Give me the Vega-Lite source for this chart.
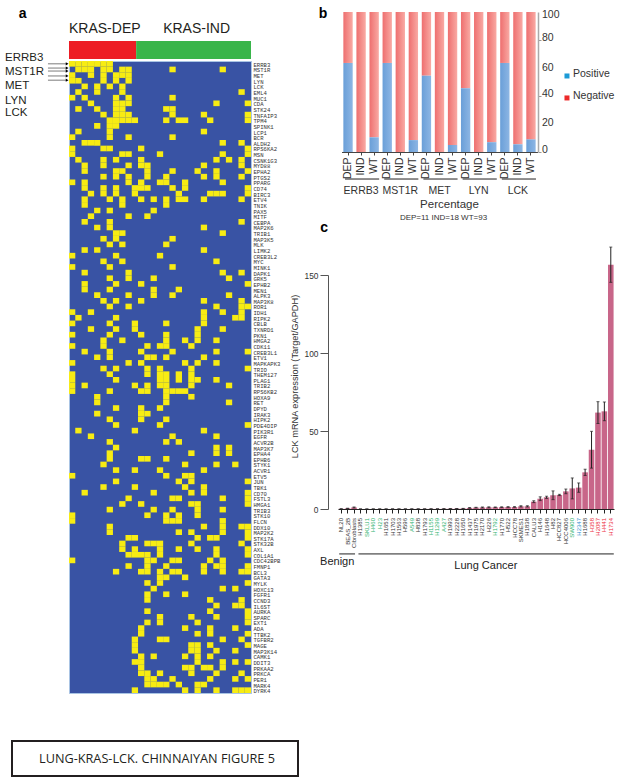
{"$schema":"https://vega.github.io/schema/vega-lite/v6.json","background":"white","padding":{"left":4,"top":7,"right":0,"bottom":0},"spacing":-9,"config":{"view":{"stroke":null},"text":{"font":"Liberation Sans"},"axis":{"labelFont":"Liberation Sans","titleFont":"Liberation Sans","grid":false},"legend":{"labelFont":"Liberation Sans"}},"hconcat":[{"spacing":45,"vconcat":[{"spacing":-8,"vconcat":[{"width":182,"height":47,"data":{"values":[{"group":"KRAS-DEP","start":0.5,"end":11.2,"low":0,"high":18},{"group":"KRAS-IND","start":11.2,"end":29.5,"low":0,"high":18}]},"layer":[{"mark":{"type":"rect"},"encoding":{"x":{"field":"start","type":"quantitative","scale":{"domain":[0.5,29.5],"nice":false,"zero":false},"axis":null},"x2":{"field":"end"},"y":{"field":"low","type":"quantitative","scale":{"domain":[0,47],"nice":false},"axis":null},"y2":{"field":"high"},"color":{"field":"group","type":"nominal","scale":{"domain":["KRAS-DEP","KRAS-IND"],"range":["#ed1c24","#39b54a"]},"legend":null}}},{"transform":[{"filter":"datum.group=='KRAS-DEP'"}],"mark":{"type":"text","align":"left","fontSize":14,"color":"#231f20","dy":-6.5},"encoding":{"x":{"field":"start","type":"quantitative"},"text":{"field":"group"}}},{"transform":[{"filter":"datum.group=='KRAS-IND'"}],"mark":{"type":"text","align":"left","fontSize":14,"color":"#231f20","dy":-6.5,"dx":27},"encoding":{"x":{"field":"start","type":"quantitative"},"text":{"field":"group"}}},{"data":{"values":[{"letter":"a"}]},"mark":{"type":"text","align":"left","fontSize":14,"fontWeight":"bold","color":"#000","dy":-21.5},"encoding":{"x":{"datum":-7.5,"type":"quantitative"},"text":{"field":"letter"}}}]},{"width":182,"height":632,"view":{"fill":"#3953a4","stroke":"#a9c4e4"},"layer":[{"data":{"values":[{"g":"ERRB3","c":1},{"g":"ERRB3","c":2},{"g":"ERRB3","c":3},{"g":"ERRB3","c":4},{"g":"ERRB3","c":5},{"g":"ERRB3","c":6},{"g":"ERRB3","c":7},{"g":"MST1R","c":2},{"g":"MST1R","c":3},{"g":"MST1R","c":4},{"g":"MST1R","c":6},{"g":"MST1R","c":7},{"g":"MST1R","c":9},{"g":"MST1R","c":10},{"g":"MST1R","c":17},{"g":"MST1R","c":25},{"g":"MET","c":1},{"g":"MET","c":4},{"g":"MET","c":6},{"g":"MET","c":8},{"g":"MET","c":9},{"g":"MET","c":10},{"g":"LYN","c":1},{"g":"LYN","c":2},{"g":"LYN","c":6},{"g":"LYN","c":8},{"g":"LYN","c":10},{"g":"LCK","c":3},{"g":"LCK","c":5},{"g":"LCK","c":7},{"g":"LCK","c":9},{"g":"EML4","c":2},{"g":"EML4","c":5},{"g":"EML4","c":9},{"g":"EML4","c":28},{"g":"MUC1","c":1},{"g":"MUC1","c":3},{"g":"MUC1","c":8},{"g":"MUC1","c":10},{"g":"MUC1","c":17},{"g":"CDA","c":4},{"g":"CDA","c":8},{"g":"CDA","c":9},{"g":"CDA","c":10},{"g":"CDA","c":24},{"g":"CDA","c":29},{"g":"STK24","c":2},{"g":"STK24","c":5},{"g":"STK24","c":8},{"g":"STK24","c":9},{"g":"STK24","c":16},{"g":"STK24","c":17},{"g":"TNFAIP3","c":6},{"g":"TNFAIP3","c":8},{"g":"TNFAIP3","c":9},{"g":"TNFAIP3","c":10},{"g":"TNFAIP3","c":17},{"g":"TNFAIP3","c":22},{"g":"TNFAIP3","c":29},{"g":"TPM4","c":7},{"g":"TPM4","c":8},{"g":"TPM4","c":9},{"g":"TPM4","c":10},{"g":"TPM4","c":11},{"g":"TPM4","c":16},{"g":"TPM4","c":18},{"g":"TPM4","c":19},{"g":"TPM4","c":23},{"g":"TPM4","c":29},{"g":"SPINK1","c":5},{"g":"SPINK1","c":7},{"g":"SPINK1","c":8},{"g":"LCP1","c":2},{"g":"LCP1","c":7},{"g":"LCP1","c":22},{"g":"BCR","c":1},{"g":"BCR","c":7},{"g":"BCR","c":10},{"g":"BCR","c":17},{"g":"ALDH2","c":3},{"g":"ALDH2","c":4},{"g":"ALDH2","c":5},{"g":"ALDH2","c":25},{"g":"ALDH2","c":28},{"g":"RPS6KA2","c":1},{"g":"RPS6KA2","c":6},{"g":"RPS6KA2","c":7},{"g":"RPS6KA2","c":12},{"g":"RPS6KA2","c":29},{"g":"MSN","c":1},{"g":"MSN","c":9},{"g":"MSN","c":10},{"g":"MSN","c":15},{"g":"MSN","c":25},{"g":"MSN","c":29},{"g":"CSNK1G3","c":2},{"g":"CSNK1G3","c":6},{"g":"CSNK1G3","c":8},{"g":"CSNK1G3","c":12},{"g":"CSNK1G3","c":24},{"g":"CSNK1G3","c":26},{"g":"CSNK1G3","c":28},{"g":"MYD88","c":3},{"g":"MYD88","c":6},{"g":"MYD88","c":10},{"g":"MYD88","c":12},{"g":"MYD88","c":13},{"g":"MYD88","c":22},{"g":"MYD88","c":28},{"g":"EPHA2","c":3},{"g":"EPHA2","c":8},{"g":"EPHA2","c":9},{"g":"EPHA2","c":13},{"g":"EPHA2","c":17},{"g":"EPHA2","c":21},{"g":"EPHA2","c":24},{"g":"EPHA2","c":29},{"g":"PTGS2","c":6},{"g":"PTGS2","c":8},{"g":"PTGS2","c":10},{"g":"PTGS2","c":13},{"g":"PTGS2","c":16},{"g":"PTGS2","c":22},{"g":"PTGS2","c":24},{"g":"PTGS2","c":28},{"g":"PPARG","c":1},{"g":"PPARG","c":3},{"g":"PPARG","c":10},{"g":"PPARG","c":12},{"g":"PPARG","c":15},{"g":"PPARG","c":16},{"g":"PPARG","c":19},{"g":"PPARG","c":25},{"g":"CD74","c":3},{"g":"CD74","c":6},{"g":"CD74","c":8},{"g":"CD74","c":11},{"g":"CD74","c":12},{"g":"CD74","c":13},{"g":"CD74","c":17},{"g":"CD74","c":19},{"g":"CD74","c":29},{"g":"BIRC3","c":4},{"g":"BIRC3","c":6},{"g":"BIRC3","c":8},{"g":"BIRC3","c":11},{"g":"BIRC3","c":18},{"g":"BIRC3","c":23},{"g":"BIRC3","c":24},{"g":"BIRC3","c":25},{"g":"BIRC3","c":29},{"g":"ETV4","c":3},{"g":"ETV4","c":7},{"g":"ETV4","c":9},{"g":"ETV4","c":12},{"g":"ETV4","c":14},{"g":"ETV4","c":16},{"g":"ETV4","c":18},{"g":"ETV4","c":19},{"g":"ETV4","c":22},{"g":"ETV4","c":28},{"g":"TNIK","c":3},{"g":"TNIK","c":9},{"g":"TNIK","c":16},{"g":"PAX5","c":5},{"g":"PAX5","c":7},{"g":"PAX5","c":14},{"g":"MITF","c":4},{"g":"MITF","c":10},{"g":"MITF","c":13},{"g":"CEBPA","c":3},{"g":"CEBPA","c":7},{"g":"CEBPA","c":28},{"g":"MAP2K6","c":5},{"g":"MAP2K6","c":7},{"g":"MAP2K6","c":22},{"g":"TRIB1","c":8},{"g":"TRIB1","c":9},{"g":"TRIB1","c":25},{"g":"MAP3K5","c":6},{"g":"MAP3K5","c":8},{"g":"MAP3K5","c":17},{"g":"MLK","c":7},{"g":"MLK","c":9},{"g":"MLK","c":16},{"g":"LIMK2","c":3},{"g":"LIMK2","c":5},{"g":"LIMK2","c":22},{"g":"CREB3L2","c":1},{"g":"CREB3L2","c":8},{"g":"CREB3L2","c":15},{"g":"MYC","c":6},{"g":"MYC","c":9},{"g":"MYC","c":24},{"g":"MINK1","c":1},{"g":"MINK1","c":7},{"g":"MINK1","c":17},{"g":"DAPK1","c":3},{"g":"DAPK1","c":10},{"g":"DAPK1","c":25},{"g":"DAPK1","c":28},{"g":"GRK5","c":7},{"g":"GRK5","c":10},{"g":"GRK5","c":14},{"g":"GRK5","c":26},{"g":"EPHB2","c":3},{"g":"EPHB2","c":8},{"g":"EPHB2","c":12},{"g":"EPHB2","c":29},{"g":"MEN1","c":3},{"g":"MEN1","c":7},{"g":"MEN1","c":14},{"g":"MEN1","c":18},{"g":"ALPK3","c":5},{"g":"ALPK3","c":10},{"g":"ALPK3","c":14},{"g":"ALPK3","c":17},{"g":"ALPK3","c":26},{"g":"MAP3K8","c":6},{"g":"MAP3K8","c":8},{"g":"MAP3K8","c":12},{"g":"MAP3K8","c":22},{"g":"MAP3K8","c":28},{"g":"ROR1","c":7},{"g":"ROR1","c":10},{"g":"ROR1","c":24},{"g":"ROR1","c":28},{"g":"ROR1","c":29},{"g":"IDH1","c":1},{"g":"IDH1","c":4},{"g":"IDH1","c":22},{"g":"IDH1","c":25},{"g":"IDH1","c":28},{"g":"RIPK2","c":2},{"g":"RIPK2","c":8},{"g":"RIPK2","c":22},{"g":"RIPK2","c":27},{"g":"RIPK2","c":28},{"g":"CBLB","c":1},{"g":"CBLB","c":7},{"g":"CBLB","c":11},{"g":"CBLB","c":16},{"g":"CBLB","c":22},{"g":"TXNRD1","c":4},{"g":"TXNRD1","c":8},{"g":"TXNRD1","c":11},{"g":"TXNRD1","c":21},{"g":"TXNRD1","c":25},{"g":"PKN1","c":1},{"g":"PKN1","c":7},{"g":"PKN1","c":12},{"g":"PKN1","c":16},{"g":"PKN1","c":21},{"g":"HMGA2","c":6},{"g":"HMGA2","c":9},{"g":"HMGA2","c":16},{"g":"HMGA2","c":19},{"g":"HMGA2","c":21},{"g":"HMGA2","c":24},{"g":"CDK11","c":1},{"g":"CDK11","c":6},{"g":"CDK11","c":13},{"g":"CDK11","c":15},{"g":"CDK11","c":16},{"g":"CDK11","c":20},{"g":"CREB3L1","c":3},{"g":"CREB3L1","c":7},{"g":"CREB3L1","c":12},{"g":"CREB3L1","c":17},{"g":"CREB3L1","c":24},{"g":"CREB3L1","c":29},{"g":"ETV1","c":5},{"g":"ETV1","c":7},{"g":"ETV1","c":13},{"g":"ETV1","c":14},{"g":"ETV1","c":16},{"g":"ETV1","c":22},{"g":"MAPKAPK3","c":1},{"g":"MAPKAPK3","c":10},{"g":"MAPKAPK3","c":12},{"g":"MAPKAPK3","c":19},{"g":"MAPKAPK3","c":21},{"g":"MAPKAPK3","c":24},{"g":"TRIO","c":6},{"g":"TRIO","c":8},{"g":"TRIO","c":13},{"g":"TRIO","c":15},{"g":"TRIO","c":20},{"g":"TRIO","c":29},{"g":"THEM127","c":1},{"g":"THEM127","c":7},{"g":"THEM127","c":13},{"g":"THEM127","c":15},{"g":"THEM127","c":16},{"g":"THEM127","c":18},{"g":"THEM127","c":20},{"g":"PLAG1","c":1},{"g":"PLAG1","c":8},{"g":"PLAG1","c":15},{"g":"PLAG1","c":16},{"g":"PLAG1","c":18},{"g":"PLAG1","c":20},{"g":"PLAG1","c":21},{"g":"PLAG1","c":24},{"g":"TRIB2","c":1},{"g":"TRIB2","c":3},{"g":"TRIB2","c":11},{"g":"TRIB2","c":13},{"g":"TRIB2","c":15},{"g":"TRIB2","c":16},{"g":"TRIB2","c":20},{"g":"TRIB2","c":26},{"g":"RPS6KB2","c":1},{"g":"RPS6KB2","c":7},{"g":"RPS6KB2","c":12},{"g":"RPS6KB2","c":13},{"g":"RPS6KB2","c":16},{"g":"RPS6KB2","c":17},{"g":"RPS6KB2","c":18},{"g":"RPS6KB2","c":19},{"g":"HOXA9","c":5},{"g":"HOXA9","c":16},{"g":"HOXA9","c":20},{"g":"RET","c":5},{"g":"RET","c":16},{"g":"RET","c":26},{"g":"DPYD","c":8},{"g":"DPYD","c":12},{"g":"DPYD","c":15},{"g":"IRAK3","c":5},{"g":"IRAK3","c":12},{"g":"IRAK3","c":13},{"g":"HIPK2","c":7},{"g":"HIPK2","c":12},{"g":"HIPK2","c":16},{"g":"PDE4DIP","c":8},{"g":"PDE4DIP","c":15},{"g":"PDE4DIP","c":29},{"g":"PIK3R1","c":2},{"g":"PIK3R1","c":11},{"g":"PIK3R1","c":22},{"g":"EGFR","c":4},{"g":"EGFR","c":17},{"g":"EGFR","c":24},{"g":"ACVR2B","c":7},{"g":"ACVR2B","c":16},{"g":"ACVR2B","c":18},{"g":"MAP3K7","c":8},{"g":"MAP3K7","c":24},{"g":"MAP3K7","c":26},{"g":"EPHA4","c":7},{"g":"EPHA4","c":20},{"g":"EPHA4","c":24},{"g":"EPHA4","c":26},{"g":"EPHB6","c":7},{"g":"EPHB6","c":12},{"g":"EPHB6","c":13},{"g":"EPHB6","c":16},{"g":"STYK1","c":6},{"g":"STYK1","c":19},{"g":"STYK1","c":24},{"g":"STYK1","c":27},{"g":"ACVR1","c":8},{"g":"ACVR1","c":11},{"g":"ACVR1","c":15},{"g":"ACVR1","c":22},{"g":"ETV5","c":1},{"g":"ETV5","c":16},{"g":"ETV5","c":19},{"g":"ETV5","c":20},{"g":"JUN","c":8},{"g":"JUN","c":18},{"g":"JUN","c":20},{"g":"JUN","c":29},{"g":"TBK1","c":6},{"g":"TBK1","c":11},{"g":"TBK1","c":19},{"g":"TBK1","c":22},{"g":"CD70","c":3},{"g":"CD70","c":14},{"g":"CD70","c":20},{"g":"CD70","c":22},{"g":"CD70","c":29},{"g":"FSTL3","c":10},{"g":"FSTL3","c":17},{"g":"FSTL3","c":18},{"g":"FSTL3","c":25},{"g":"FSTL3","c":29},{"g":"HMGA1","c":9},{"g":"HMGA1","c":12},{"g":"HMGA1","c":20},{"g":"HMGA1","c":21},{"g":"HMGA1","c":29},{"g":"TRIB3","c":7},{"g":"TRIB3","c":14},{"g":"TRIB3","c":17},{"g":"TRIB3","c":21},{"g":"TRIB3","c":25},{"g":"STK10","c":1},{"g":"STK10","c":13},{"g":"STK10","c":16},{"g":"STK10","c":18},{"g":"STK10","c":21},{"g":"FLCN","c":1},{"g":"FLCN","c":16},{"g":"FLCN","c":17},{"g":"FLCN","c":18},{"g":"FLCN","c":25},{"g":"DDX10","c":7},{"g":"DDX10","c":22},{"g":"DDX10","c":25},{"g":"DDX10","c":28},{"g":"DDX10","c":29},{"g":"MAP2K2","c":7},{"g":"MAP2K2","c":18},{"g":"MAP2K2","c":20},{"g":"MAP2K2","c":25},{"g":"MAP2K2","c":29},{"g":"STK17A","c":10},{"g":"STK17A","c":11},{"g":"STK17A","c":21},{"g":"STK17A","c":23},{"g":"STK17A","c":24},{"g":"STK17A","c":29},{"g":"STK32B","c":9},{"g":"STK32B","c":13},{"g":"STK32B","c":14},{"g":"STK32B","c":15},{"g":"STK32B","c":20},{"g":"STK32B","c":28},{"g":"AXL","c":9},{"g":"AXL","c":11},{"g":"AXL","c":15},{"g":"AXL","c":18},{"g":"AXL","c":21},{"g":"AXL","c":24},{"g":"AXL","c":29},{"g":"COL1A1","c":10},{"g":"COL1A1","c":11},{"g":"COL1A1","c":12},{"g":"COL1A1","c":13},{"g":"COL1A1","c":15},{"g":"COL1A1","c":24},{"g":"COL1A1","c":29},{"g":"CDC42BPB","c":1},{"g":"CDC42BPB","c":13},{"g":"CDC42BPB","c":14},{"g":"CDC42BPB","c":17},{"g":"CDC42BPB","c":18},{"g":"CDC42BPB","c":23},{"g":"CDC42BPB","c":25},{"g":"FMNP1","c":10},{"g":"FMNP1","c":13},{"g":"FMNP1","c":16},{"g":"FMNP1","c":22},{"g":"FMNP1","c":24},{"g":"FMNP1","c":25},{"g":"FMNP1","c":29},{"g":"BCL3","c":8},{"g":"BCL3","c":12},{"g":"BCL3","c":13},{"g":"BCL3","c":15},{"g":"BCL3","c":17},{"g":"BCL3","c":18},{"g":"BCL3","c":22},{"g":"BCL3","c":25},{"g":"BCL3","c":28},{"g":"BCL3","c":29},{"g":"GATA3","c":15},{"g":"GATA3","c":16},{"g":"GATA3","c":19},{"g":"MYLK","c":13},{"g":"MYLK","c":15},{"g":"MYLK","c":29},{"g":"HOXC13","c":14},{"g":"HOXC13","c":25},{"g":"HOXC13","c":27},{"g":"FGFR1","c":13},{"g":"FGFR1","c":16},{"g":"FGFR1","c":19},{"g":"CCND3","c":13},{"g":"CCND3","c":23},{"g":"CCND3","c":28},{"g":"IL6ST","c":24},{"g":"IL6ST","c":27},{"g":"IL6ST","c":28},{"g":"AURKA","c":13},{"g":"AURKA","c":23},{"g":"AURKA","c":29},{"g":"SPARC","c":15},{"g":"SPARC","c":20},{"g":"SPARC","c":24},{"g":"SPARC","c":29},{"g":"EXT1","c":13},{"g":"EXT1","c":15},{"g":"EXT1","c":21},{"g":"EXT1","c":29},{"g":"ADA","c":12},{"g":"ADA","c":19},{"g":"ADA","c":23},{"g":"ADA","c":27},{"g":"TTBK2","c":12},{"g":"TTBK2","c":21},{"g":"TTBK2","c":23},{"g":"TTBK2","c":29},{"g":"TGFBR2","c":11},{"g":"TGFBR2","c":15},{"g":"TGFBR2","c":16},{"g":"TGFBR2","c":25},{"g":"TGFBR2","c":28},{"g":"MAGE","c":11},{"g":"MAGE","c":20},{"g":"MAGE","c":21},{"g":"MAGE","c":23},{"g":"MAGE","c":29},{"g":"MAP3K14","c":11},{"g":"MAP3K14","c":20},{"g":"MAP3K14","c":21},{"g":"MAP3K14","c":24},{"g":"MAP3K14","c":27},{"g":"CAMK1","c":12},{"g":"CAMK1","c":14},{"g":"CAMK1","c":19},{"g":"CAMK1","c":21},{"g":"CAMK1","c":23},{"g":"DDIT3","c":11},{"g":"DDIT3","c":12},{"g":"DDIT3","c":21},{"g":"DDIT3","c":25},{"g":"DDIT3","c":27},{"g":"DDIT3","c":29},{"g":"PRKAA2","c":12},{"g":"PRKAA2","c":19},{"g":"PRKAA2","c":20},{"g":"PRKAA2","c":22},{"g":"PRKAA2","c":23},{"g":"PRKAA2","c":25},{"g":"PRKCA","c":12},{"g":"PRKCA","c":13},{"g":"PRKCA","c":15},{"g":"PRKCA","c":20},{"g":"PRKCA","c":24},{"g":"PRKCA","c":28},{"g":"PER1","c":13},{"g":"PER1","c":14},{"g":"PER1","c":17},{"g":"PER1","c":23},{"g":"PER1","c":27},{"g":"PER1","c":29},{"g":"MARK4","c":13},{"g":"MARK4","c":14},{"g":"MARK4","c":15},{"g":"MARK4","c":16},{"g":"MARK4","c":18},{"g":"MARK4","c":21},{"g":"MARK4","c":22},{"g":"DYRK4","c":11},{"g":"DYRK4","c":19},{"g":"DYRK4","c":21},{"g":"DYRK4","c":24},{"g":"DYRK4","c":27},{"g":"DYRK4","c":28},{"g":"DYRK4","c":29}]},"mark":{"type":"rect","color":"#f7ec13","width":6.3},"encoding":{"x":{"field":"c","type":"quantitative","scale":{"domain":[0.5,29.5],"nice":false,"zero":false},"axis":null},"y":{"field":"g","type":"nominal","sort":null,"scale":{"domain":["ERRB3","MST1R","MET","LYN","LCK","EML4","MUC1","CDA","STK24","TNFAIP3","TPM4","SPINK1","LCP1","BCR","ALDH2","RPS6KA2","MSN","CSNK1G3","MYD88","EPHA2","PTGS2","PPARG","CD74","BIRC3","ETV4","TNIK","PAX5","MITF","CEBPA","MAP2K6","TRIB1","MAP3K5","MLK","LIMK2","CREB3L2","MYC","MINK1","DAPK1","GRK5","EPHB2","MEN1","ALPK3","MAP3K8","ROR1","IDH1","RIPK2","CBLB","TXNRD1","PKN1","HMGA2","CDK11","CREB3L1","ETV1","MAPKAPK3","TRIO","THEM127","PLAG1","TRIB2","RPS6KB2","HOXA9","RET","DPYD","IRAK3","HIPK2","PDE4DIP","PIK3R1","EGFR","ACVR2B","MAP3K7","EPHA4","EPHB6","STYK1","ACVR1","ETV5","JUN","TBK1","CD70","FSTL3","HMGA1","TRIB3","STK10","FLCN","DDX10","MAP2K2","STK17A","STK32B","AXL","COL1A1","CDC42BPB","FMNP1","BCL3","GATA3","MYLK","HOXC13","FGFR1","CCND3","IL6ST","AURKA","SPARC","EXT1","ADA","TTBK2","TGFBR2","MAGE","MAP3K14","CAMK1","DDIT3","PRKAA2","PRKCA","PER1","MARK4","DYRK4"],"paddingInner":0,"paddingOuter":0},"axis":{"orient":"right","title":null,"ticks":false,"domain":false,"labelFont":"Liberation Mono","labelFontSize":5.6,"labelPadding":2,"labelOffset":1,"labelOverlap":false,"labelColor":"#333333"}}}},{"data":{"values":[{"label":"ERRB3"}]},"mark":{"type":"text","align":"left","fontSize":11.5,"color":"#231f20","dy":-6},"encoding":{"x":{"datum":-9.7,"type":"quantitative"},"y":{"field":"label","type":"nominal","sort":null},"text":{"field":"label"}}},{"data":{"values":[{"label":"MST1R"}]},"mark":{"type":"text","align":"left","fontSize":11.5,"color":"#231f20","dy":2.5},"encoding":{"x":{"datum":-9.7,"type":"quantitative"},"y":{"field":"label","type":"nominal","sort":null},"text":{"field":"label"}}},{"data":{"values":[{"label":"MET"}]},"mark":{"type":"text","align":"left","fontSize":11.5,"color":"#231f20","dy":11},"encoding":{"x":{"datum":-9.7,"type":"quantitative"},"y":{"field":"label","type":"nominal","sort":null},"text":{"field":"label"}}},{"data":{"values":[{"label":"LYN"}]},"mark":{"type":"text","align":"left","fontSize":11.5,"color":"#231f20","dy":20},"encoding":{"x":{"datum":-9.7,"type":"quantitative"},"y":{"field":"label","type":"nominal","sort":null},"text":{"field":"label"}}},{"data":{"values":[{"label":"LCK"}]},"mark":{"type":"text","align":"left","fontSize":11.5,"color":"#231f20","dy":26.5},"encoding":{"x":{"datum":-9.7,"type":"quantitative"},"y":{"field":"label","type":"nominal","sort":null},"text":{"field":"label"}}},{"data":{"values":[{"a":"ERRB3","s":-2.85,"e":0.2}]},"layer":[{"mark":{"type":"rule","color":"#444444","strokeWidth":0.7},"encoding":{"x":{"field":"s","type":"quantitative"},"x2":{"field":"e"},"y":{"field":"a","type":"nominal","sort":null,"bandPosition":0.5}}},{"mark":{"type":"point","shape":"triangle-right","filled":true,"size":10,"color":"#000000","opacity":1},"encoding":{"x":{"field":"e","type":"quantitative"},"y":{"field":"a","type":"nominal","sort":null,"bandPosition":0.5}}}]},{"data":{"values":[{"a":"MST1R","s":-2.85,"e":0.2}]},"layer":[{"mark":{"type":"rule","color":"#444444","strokeWidth":0.7},"encoding":{"x":{"field":"s","type":"quantitative"},"x2":{"field":"e"},"y":{"field":"a","type":"nominal","sort":null,"bandPosition":0.25}}},{"mark":{"type":"point","shape":"triangle-right","filled":true,"size":10,"color":"#000000","opacity":1},"encoding":{"x":{"field":"e","type":"quantitative"},"y":{"field":"a","type":"nominal","sort":null,"bandPosition":0.25}}}]},{"data":{"values":[{"a":"MST1R","s":-2.85,"e":0.2}]},"layer":[{"mark":{"type":"rule","color":"#444444","strokeWidth":0.7},"encoding":{"x":{"field":"s","type":"quantitative"},"x2":{"field":"e"},"y":{"field":"a","type":"nominal","sort":null,"bandPosition":0.78}}},{"mark":{"type":"point","shape":"triangle-right","filled":true,"size":10,"color":"#000000","opacity":1},"encoding":{"x":{"field":"e","type":"quantitative"},"y":{"field":"a","type":"nominal","sort":null,"bandPosition":0.78}}}]},{"data":{"values":[{"a":"MET","s":-2.85,"e":0.2}]},"layer":[{"mark":{"type":"rule","color":"#444444","strokeWidth":0.7},"encoding":{"x":{"field":"s","type":"quantitative"},"x2":{"field":"e"},"y":{"field":"a","type":"nominal","sort":null,"bandPosition":0.65}}},{"mark":{"type":"point","shape":"triangle-right","filled":true,"size":10,"color":"#000000","opacity":1},"encoding":{"x":{"field":"e","type":"quantitative"},"y":{"field":"a","type":"nominal","sort":null,"bandPosition":0.65}}}]},{"data":{"values":[{"a":"LYN","s":-2.85,"e":0.2}]},"layer":[{"mark":{"type":"rule","color":"#444444","strokeWidth":0.7},"encoding":{"x":{"field":"s","type":"quantitative"},"x2":{"field":"e"},"y":{"field":"a","type":"nominal","sort":null,"bandPosition":0.4}}},{"mark":{"type":"point","shape":"triangle-right","filled":true,"size":10,"color":"#000000","opacity":1},"encoding":{"x":{"field":"e","type":"quantitative"},"y":{"field":"a","type":"nominal","sort":null,"bandPosition":0.4}}}]}]}]},{"width":229,"height":36,"data":{"values":[{"t":"LUNG-KRAS-LCK. CHINNAIYAN FIGURE 5","x0":-57,"x1":229,"y0":0,"y1":35,"xm":88,"ym":17.5}]},"layer":[{"mark":{"type":"rect","fillOpacity":0,"stroke":"#231f20","strokeWidth":2},"encoding":{"x":{"field":"x0","type":"quantitative","scale":{"domain":[0,229],"nice":false,"zero":false},"axis":null},"x2":{"field":"x1"},"y":{"field":"y0","type":"quantitative","scale":{"domain":[0,36],"nice":false},"axis":null},"y2":{"field":"y1"}}},{"mark":{"type":"text","font":"Open Sans","fontSize":12.7,"color":"#231f20"},"encoding":{"x":{"field":"xm","type":"quantitative"},"y":{"field":"ym","type":"quantitative"},"text":{"field":"t"}}}]}]},{"spacing":-1,"vconcat":[{"width":200,"height":140,"data":{"values":[{"k":"ERRB3 DEP","status":"Positive","pct":63.6},{"k":"ERRB3 DEP","status":"Negative","pct":36.4},{"k":"ERRB3 IND","status":"Positive","pct":0},{"k":"ERRB3 IND","status":"Negative","pct":100},{"k":"ERRB3 WT","status":"Positive","pct":10.5},{"k":"ERRB3 WT","status":"Negative","pct":89.5},{"k":"MST1R DEP","status":"Positive","pct":63.6},{"k":"MST1R DEP","status":"Negative","pct":36.4},{"k":"MST1R IND","status":"Positive","pct":0},{"k":"MST1R IND","status":"Negative","pct":100},{"k":"MST1R WT","status":"Positive","pct":8.5},{"k":"MST1R WT","status":"Negative","pct":91.5},{"k":"MET DEP","status":"Positive","pct":54.5},{"k":"MET DEP","status":"Negative","pct":45.5},{"k":"MET IND","status":"Positive","pct":0},{"k":"MET IND","status":"Negative","pct":100},{"k":"MET WT","status":"Positive","pct":5},{"k":"MET WT","status":"Negative","pct":95},{"k":"LYN DEP","status":"Positive","pct":45.5},{"k":"LYN DEP","status":"Negative","pct":54.5},{"k":"LYN IND","status":"Positive","pct":0},{"k":"LYN IND","status":"Negative","pct":100},{"k":"LYN WT","status":"Positive","pct":7},{"k":"LYN WT","status":"Negative","pct":93},{"k":"LCK DEP","status":"Positive","pct":63.6},{"k":"LCK DEP","status":"Negative","pct":36.4},{"k":"LCK IND","status":"Positive","pct":5.5},{"k":"LCK IND","status":"Negative","pct":94.5},{"k":"LCK WT","status":"Positive","pct":9},{"k":"LCK WT","status":"Negative","pct":91}]},"transform":[{"stack":"pct","groupby":["k"],"sort":[{"field":"status","order":"descending"}],"as":["y0","y1"]}],"layer":[{"transform":[{"filter":"datum.status=='Negative'"}],"mark":{"type":"bar","color":{"x1":0,"y1":0,"x2":1,"y2":0,"gradient":"linear","stops":[{"offset":0,"color":"#ee6f6f"},{"offset":1,"color":"#f9aaa4"}]}},"encoding":{"x":{"field":"k","type":"nominal","sort":null,"scale":{"domain":["ERRB3 DEP","ERRB3 IND","ERRB3 WT","MST1R DEP","MST1R IND","MST1R WT","MET DEP","MET IND","MET WT","LYN DEP","LYN IND","LYN WT","LCK DEP","LCK IND","LCK WT"],"range":[3.5,199.5],"paddingInner":0.285,"paddingOuter":0.142},"axis":{"title":null,"labelExpr":"split(datum.label,' ')[1]","labelAngle":-90,"labelFontSize":10.5,"labelColor":"#333333","labelPadding":2,"tickSize":3,"tickColor":"#444444","domainColor":"#444444","labelOverlap":false}},"y":{"field":"y0","type":"quantitative","scale":{"domain":[0,100],"nice":false},"axis":{"orient":"right","title":null,"values":[0,20,40,60,80,100],"labels":false,"tickSize":3,"tickColor":"#999999","domainColor":"#aaaaaa","domainWidth":1.5}},"y2":{"field":"y1"}}},{"transform":[{"filter":"datum.status=='Positive' && datum.pct>0"}],"mark":{"type":"bar","color":{"x1":0,"y1":0,"x2":1,"y2":0,"gradient":"linear","stops":[{"offset":0,"color":"#6a9fd8"},{"offset":1,"color":"#8db6e4"}]}},"encoding":{"x":{"field":"k","type":"nominal","sort":null},"y":{"field":"y0","type":"quantitative"},"y2":{"field":"y1"}}},{"data":{"values":[{"tick":"100","at":98,"k":"LCK WT"},{"tick":"80","at":81.4,"k":"LCK WT"},{"tick":"60","at":60,"k":"LCK WT"},{"tick":"40","at":41.4,"k":"LCK WT"},{"tick":"20","at":20.7,"k":"LCK WT"},{"tick":"0","at":1.4,"k":"LCK WT"}]},"mark":{"type":"text","align":"left","fontSize":10.5,"color":"#333333","dx":11},"encoding":{"x":{"field":"k","type":"nominal"},"y":{"field":"at","type":"quantitative"},"text":{"field":"tick"}}},{"data":{"values":[{"status":"Positive","at":54.3,"k":"LCK WT"},{"status":"Negative","at":38.6,"k":"LCK WT"}]},"layer":[{"transform":[{"filter":"datum.status=='Positive'"}],"mark":{"type":"square","size":25,"opacity":1,"color":"#1c9ad6","xOffset":36},"encoding":{"x":{"field":"k","type":"nominal"},"y":{"field":"at","type":"quantitative"}}},{"transform":[{"filter":"datum.status=='Negative'"}],"mark":{"type":"square","size":25,"opacity":1,"color":"#ed2a2a","xOffset":36},"encoding":{"x":{"field":"k","type":"nominal"},"y":{"field":"at","type":"quantitative"}}},{"mark":{"type":"text","align":"left","fontSize":10.5,"color":"#333333","dx":42,"dy":-1.5},"encoding":{"x":{"field":"k","type":"nominal"},"y":{"field":"at","type":"quantitative"},"text":{"field":"status"}}}]},{"data":{"values":[{"gene":"ERRB3","a":"ERRB3 DEP","m":"ERRB3 IND","b":"ERRB3 WT"},{"gene":"MST1R","a":"MST1R DEP","m":"MST1R IND","b":"MST1R WT"},{"gene":"MET","a":"MET DEP","m":"MET IND","b":"MET WT"},{"gene":"LYN","a":"LYN DEP","m":"LYN IND","b":"LYN WT"},{"gene":"LCK","a":"LCK DEP","m":"LCK IND","b":"LCK WT"}]},"layer":[{"mark":{"type":"rule","color":"#231f20","strokeWidth":1,"xOffset":-3,"x2Offset":5},"encoding":{"x":{"field":"a","type":"nominal"},"x2":{"field":"b"},"y":{"datum":-19.3,"type":"quantitative"}}},{"mark":{"type":"text","fontSize":10.5,"color":"#333333"},"encoding":{"x":{"field":"m","type":"nominal"},"y":{"datum":-28,"type":"quantitative"},"text":{"field":"gene"}}}]},{"data":{"values":[{"t":"Percentage","at":"MET IND"}]},"mark":{"type":"text","fontSize":11.5,"color":"#333333","dx":10},"encoding":{"x":{"field":"at","type":"nominal"},"y":{"datum":-37.5,"type":"quantitative"},"text":{"field":"t"}}},{"data":{"values":[{"t":"DEP=11 IND=18  WT=93","at":"MET IND"}]},"mark":{"type":"text","fontSize":8,"color":"#333333","dx":4},"encoding":{"x":{"field":"at","type":"nominal"},"y":{"datum":-47,"type":"quantitative"},"text":{"field":"t"}}},{"data":{"values":[{"t":"b","at":"ERRB3 DEP"}]},"mark":{"type":"text","fontSize":14,"fontWeight":"bold","color":"#000000","dx":-25,"dy":2},"encoding":{"x":{"field":"at","type":"nominal"},"y":{"datum":100,"type":"quantitative"},"text":{"field":"t"}}}]},{"width":276,"height":234,"data":{"values":[{"line":"NL20","v":0.1,"e":0.05},{"line":"BEAS_2B","v":0.4,"e":0.1},{"line":"Cibroblasts","v":1,"e":0.3},{"line":"H1385","v":0.03,"e":0},{"line":"SKLU1","v":0.03,"e":0},{"line":"H460","v":0.03,"e":0},{"line":"H23","v":0.04,"e":0},{"line":"H1651","v":0.04,"e":0},{"line":"H1703","v":0.05,"e":0},{"line":"H1563","v":0.05,"e":0},{"line":"H596","v":0.05,"e":0},{"line":"A549","v":0.06,"e":0},{"line":"H838","v":0.07,"e":0},{"line":"H1793","v":0.08,"e":0},{"line":"H1155","v":0.1,"e":0},{"line":"H1299","v":0.1,"e":0},{"line":"A427","v":0.15,"e":0.05},{"line":"H1993","v":0.2,"e":0.05},{"line":"H2228","v":0.25,"e":0.05},{"line":"H1650","v":0.3,"e":0.1},{"line":"H1437","v":0.7,"e":0.2},{"line":"H1975","v":0.9,"e":0.2},{"line":"H2170","v":1,"e":0.3},{"line":"H226","v":1.1,"e":0.3},{"line":"H1792","v":1.1,"e":0.2},{"line":"H1770","v":1.2,"e":0.2},{"line":"H522","v":1.3,"e":0.2},{"line":"HCC78","v":1.3,"e":0.2},{"line":"SKMES1","v":1.7,"e":0.4},{"line":"H1838","v":1.7,"e":0.4},{"line":"CALU3","v":4.7,"e":0.6},{"line":"H146","v":6.6,"e":1.2},{"line":"H1648","v":7.5,"e":0.7},{"line":"H82","v":8.8,"e":2.8},{"line":"HCC827","v":9,"e":0.4},{"line":"HCC4006","v":11.3,"e":1.5},{"line":"SW900","v":13.2,"e":6.7},{"line":"H2347","v":13.7,"e":3},{"line":"H1688","v":23.5,"e":2},{"line":"H358","v":38,"e":11.8},{"line":"H2087","v":61.8,"e":7},{"line":"H441","v":62.6,"e":6},{"line":"H1734","v":156.6,"e":11.3}]},"layer":[{"mark":{"type":"bar","color":"#c86689"},"encoding":{"x":{"field":"line","type":"nominal","sort":null,"scale":{"domain":["NL20","BEAS_2B","Cibroblasts","H1385","SKLU1","H460","H23","H1651","H1703","H1563","H596","A549","H838","H1793","H1155","H1299","A427","H1993","H2228","H1650","H1437","H1975","H2170","H226","H1792","H1770","H522","HCC78","SKMES1","H1838","CALU3","H146","H1648","H82","HCC827","HCC4006","SW900","H2347","H1688","H358","H2087","H441","H1734"],"paddingInner":0.13,"paddingOuter":0.065},"axis":{"title":null,"labelAngle":-90,"labelFontSize":6,"labelPadding":4.5,"tickSize":4,"tickColor":"#222222","domainColor":"#222222","labelOverlap":false,"labelColor":{"condition":[{"test":"indexof(['SKLU1','H460','H23','A549','H1155','H1299','A427','H1792','SW900'],datum.value)>=0","value":"#2fb36f"},{"test":"datum.value=='H2347'","value":"#2f8fd0"},{"test":"indexof(['H358','H2087','H441','H1734'],datum.value)>=0","value":"#ed2a3a"}],"value":"#333333"}}},"y":{"field":"v","type":"quantitative","title":"LCK mRNA expression (Target/GAPDH)","scale":{"domain":[0,150],"nice":false},"axis":{"orient":"left","offset":10,"title":"LCK mRNA expression (Target/GAPDH)","titleFontSize":9.2,"titleFontWeight":"normal","titleColor":"#333333","titlePadding":5,"titleY":101,"values":[0,50,100,150],"labelFontSize":8.4,"labelColor":"#333333","tickSize":8,"tickColor":"#555555","domainColor":"#555555","labelPadding":2}}}},{"mark":{"type":"errorbar","ticks":{"size":3,"color":"#222222"},"rule":{"color":"#222222"}},"encoding":{"x":{"field":"line","type":"nominal","sort":null},"y":{"field":"v","type":"quantitative","title":"LCK mRNA expression (Target/GAPDH)"},"yError":{"field":"e"}}},{"data":{"values":[{"t":"Benign","a":"NL20","b":"Cibroblasts"}]},"layer":[{"mark":{"type":"rule","color":"#222222","xOffset":-2,"x2Offset":1},"encoding":{"x":{"field":"a","type":"nominal"},"x2":{"field":"b"},"y":{"datum":-28.8,"type":"quantitative"}}},{"mark":{"type":"text","fontSize":11,"color":"#222222","dx":-4},"encoding":{"x":{"field":"a","type":"nominal"},"y":{"datum":-34,"type":"quantitative"},"text":{"field":"t"}}}]},{"data":{"values":[{"t":"Lung Cancer","a":"H1385","b":"H1734","m":"H226"}]},"layer":[{"mark":{"type":"rule","color":"#222222","xOffset":-2,"x2Offset":3},"encoding":{"x":{"field":"a","type":"nominal"},"x2":{"field":"b"},"y":{"datum":-28.8,"type":"quantitative"}}},{"mark":{"type":"text","fontSize":11,"color":"#222222","dx":-3},"encoding":{"x":{"field":"m","type":"nominal"},"y":{"datum":-36.5,"type":"quantitative"},"text":{"field":"t"}}}]},{"data":{"values":[{"t":"c","a":"NL20"}]},"mark":{"type":"text","fontSize":14,"fontWeight":"bold","color":"#000000","dx":-17},"encoding":{"x":{"field":"a","type":"nominal"},"y":{"datum":180,"type":"quantitative"},"text":{"field":"t"}}}]}]}]}
